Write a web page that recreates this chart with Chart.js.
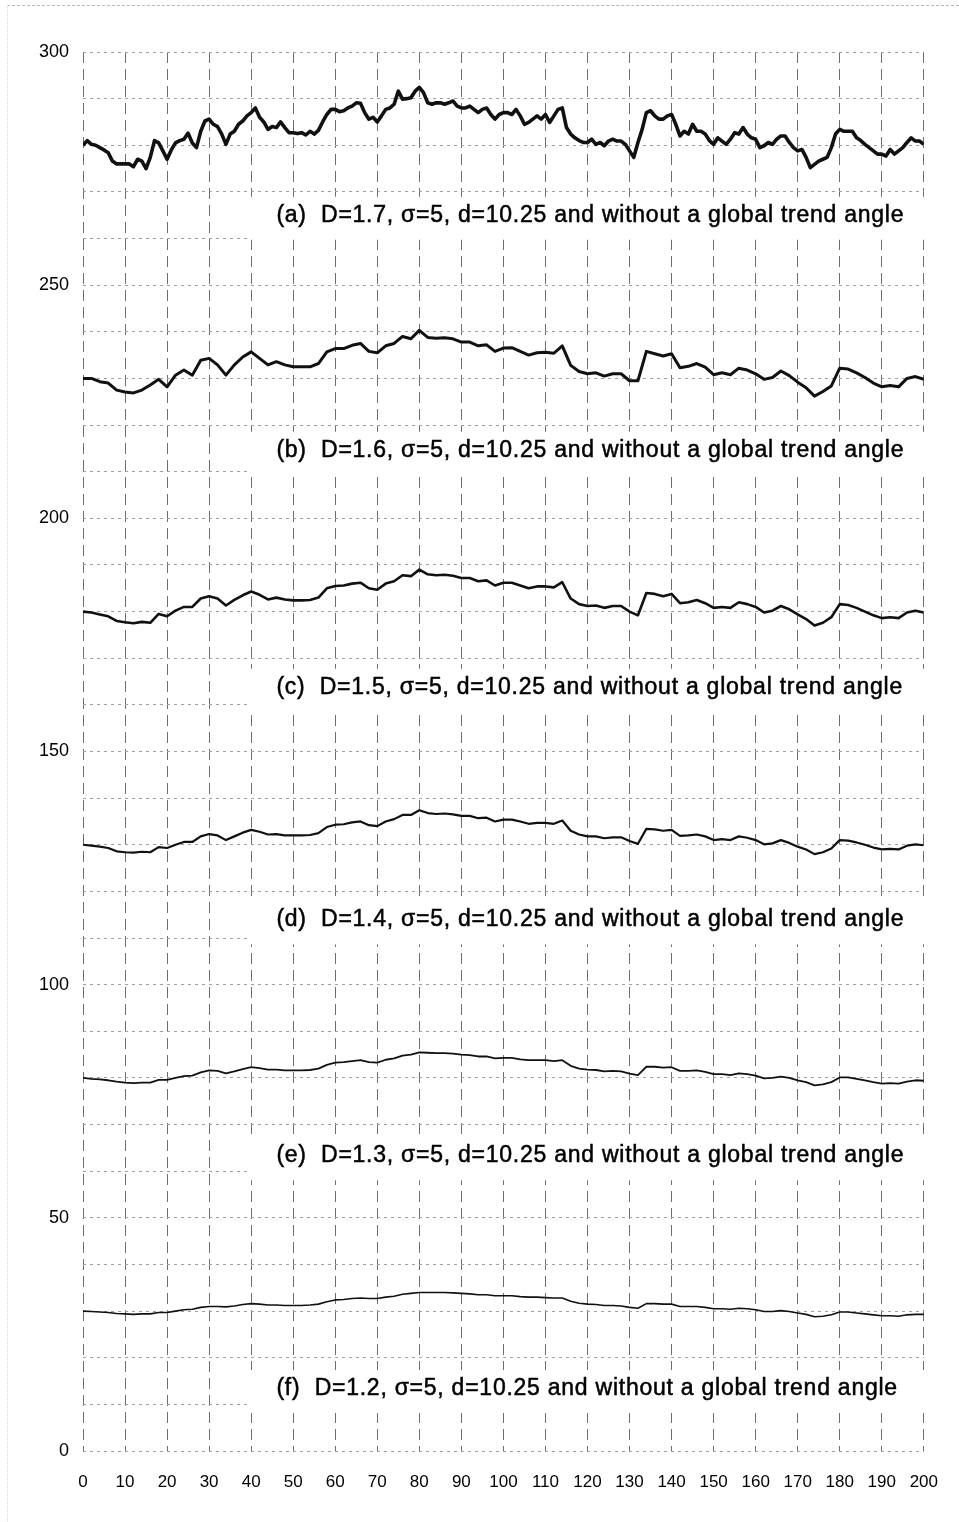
<!DOCTYPE html>
<html>
<head>
<meta charset="utf-8">
<script src="https://cdn.jsdelivr.net/npm/chart.js@4/dist/chart.umd.min.js"></script>
<style>
  html, body { margin: 0; padding: 0; background: #fff; }
  #wrap { position: relative; width: 959px; height: 1522px; }
  #scan { position: absolute; left: 7px; top: 5px; right: 0; bottom: 0;
          border-top: 1px dashed #b5b5b5; border-left: 1px dotted #d8d8d8; pointer-events: none; }
</style>
</head>
<body>
<div id="wrap">
  <canvas id="fractalChart" width="959" height="1522"></canvas>
  <div id="scan"></div>
</div>
<script>
// sample positions (x)
const xFine = [0,1,2,3,4,5,6,7,8,9,10,11,12,13,14,15,16,17,18,19,20,21,22,23,24,25,26,27,28,29,30,31,32,33,34,35,36,37,38,39,40,41,42,43,44,45,46,47,48,49,50,51,52,53,54,55,56,57,58,59,60,61,62,63,64,65,66,67,68,69,70,71,72,73,74,75,76,77,78,79,80,81,82,83,84,85,86,87,88,89,90,91,92,93,94,95,96,97,98,99,100,101,102,103,104,105,106,107,108,109,110,111,112,113,114,115,116,117,118,119,120,121,122,123,124,125,126,127,128,129,130,131,132,133,134,135,136,137,138,139,140,141,142,143,144,145,146,147,148,149,150,151,152,153,154,155,156,157,158,159,160,161,162,163,164,165,166,167,168,169,170,171,172,173,174,175,176,177,178,179,180,181,182,183,184,185,186,187,188,189,190,191,192,193,194,195,196,197,198,199,200];
const xCoarse = [0,2,4,6,8,10,12,14,16,18,20,22,24,26,28,30,32,34,36,38,40,42,44,46,48,50,52,54,56,58,60,62,64,66,68,70,72,74,76,78,80,82,84,86,88,90,92,94,96,98,100,102,104,106,108,110,112,114,116,118,120,122,124,126,128,130,132,134,136,138,140,142,144,146,148,150,152,154,156,158,160,162,164,166,168,170,172,174,176,178,180,182,184,186,188,190,192,194,196,198,200];

// (a) D=1.7, sampled on xFine
const seriesA = [280,281,280.2,280,279.5,279,278.4,276.6,276,276,276,276,275.4,277,276.6,275,277.4,281,280.5,278.8,
  277,279,280.5,281,281.3,282.6,280.5,279.5,283,285.2,285.6,284.5,284,282.4,280.2,282.4,283,284.5,285.2,286.3,
  287,288,286,285,283.4,284,283.8,285,283.8,282.7,282.7,282.5,282.7,282.2,283,282.4,283.2,285,286.6,287.7,
  287.7,287.2,287.4,288,288.4,289.1,289,287,285.6,286,285,286.3,287.7,288,288.8,291.6,289.9,290,290.2,291.6,
  292.4,291.3,289.1,288.8,289.1,289.1,288.8,289.1,289.5,288.4,288,288,288.4,287.7,287,287.7,288,286.6,285.6,286.6,
  287,287,286.6,287.7,286.3,284.5,284.9,285.6,286.3,285.6,286.6,284.9,286.3,287.7,288,283.8,282.4,281.6,281,280.6,
  280.6,281.3,280.2,280.6,279.9,280.9,281.3,280.9,280.9,280.2,278.8,277.4,280.6,283.4,287,287.4,286.3,285.6,285.6,286.3,
  286.6,284.5,282,283,282.4,284.5,283,283,282.4,281,280.2,281.6,280.9,280.2,281.3,282.7,282.4,283.8,282.4,281.6,
  281.3,279.5,279.9,280.6,280.2,281.3,282,282,280.6,279.5,278.8,279.1,277.4,275.2,275.9,276.6,277,277.4,279.5,282.4,
  283.4,283,283,283,281.6,281,280.2,279.5,278.8,278.1,278.1,277.7,279.1,278.1,278.8,279.5,280.6,281.6,280.9,280.9,280.2];

// (b)..(f), sampled on xCoarse
const seriesB = [230,230,229.3,229,227.5,227.1,226.9,227.5,228.6,229.8,228.2,230.7,231.8,230.7,233.9,234.3,232.9,230.7,232.9,234.6,
  235.7,234.3,232.9,233.6,232.9,232.5,232.5,232.5,233.2,235.7,236.4,236.4,237.1,237.5,235.8,235.5,237,237.5,239,238.5,
  240.3,238.8,238.6,238.7,238.5,237.8,237.8,237,237.2,235.8,236.5,236.6,235.8,235,235.5,235.6,235.4,237,232.8,231.5,
  231,231.2,230.5,231,231,229.5,229.5,235.8,235.3,234.8,235.3,232.3,232.6,233.2,232.4,230.8,231.2,230.8,232.2,231.8,
  231,229.8,230.2,231.6,230.6,229.2,228,226.2,227.2,228.4,232.2,232,231.2,230.2,229,228.2,228.5,228.2,230,230.4,229.8];
const seriesC = [180,179.8,179.4,179,178,177.7,177.5,177.8,177.6,179.5,179,180.2,181,181,182.8,183.3,182.8,181.3,182.5,183.5,
  184.3,183.6,182.6,183,182.6,182.4,182.4,182.5,183,185,185.5,185.6,186,186.2,185,184.7,186,186.5,187.8,187.6,
  189,188,187.8,187.9,187.7,187.2,187.2,186.5,186.7,185.6,186.2,186.2,185.6,185,185.4,185.4,185.2,186.3,182.8,181.6,
  181.2,181.3,180.8,181.2,181.2,180,179.2,184,183.8,183.3,183.8,181.8,182,182.5,181.8,180.8,181,180.8,182,181.6,
  181,179.8,180.2,181.2,180.5,179.4,178.4,177,177.6,178.8,181.6,181.4,180.8,180,179.2,178.6,178.8,178.6,179.8,180.2,179.8];
const seriesD = [130,129.8,129.6,129.3,128.6,128.4,128.3,128.5,128.4,129.5,129.3,130,130.6,130.6,131.8,132.3,132,131,131.8,132.6,
  133.2,132.8,132.2,132.3,132,132,132,132.1,132.5,133.8,134.3,134.4,134.8,135,134.2,134,135,135.5,136.4,136.4,
  137.4,136.8,136.6,136.7,136.5,136.2,136.2,135.7,135.8,135,135.4,135.4,135,134.5,134.7,134.7,134.5,135.2,133,132.2,
  131.8,131.8,131.4,131.6,131.6,130.8,130.2,133.4,133.3,133,133.2,131.9,132,132.2,131.8,131,131.2,131,131.8,131.5,
  131,130.1,130.3,131,130.4,129.6,129,128,128.4,129.2,131,130.9,130.5,130,129.4,129,129.1,129,129.8,130.1,129.9];
const seriesE = [80,79.8,79.7,79.5,79.2,79,78.9,79,79,79.6,79.6,80,80.4,80.5,81.2,81.6,81.5,81,81.4,81.9,
  82.3,82.1,81.8,81.8,81.6,81.6,81.6,81.7,82,82.8,83.3,83.4,83.6,83.8,83.4,83.3,83.9,84.2,84.8,85,
  85.5,85.4,85.3,85.3,85.2,85,84.9,84.6,84.6,84.2,84.3,84.3,84,83.8,83.8,83.8,83.6,83.8,82.6,82,
  81.8,81.7,81.4,81.5,81.4,80.9,80.6,82.4,82.4,82.2,82.3,81.5,81.5,81.6,81.3,80.8,80.8,80.6,81,80.8,
  80.5,79.9,80,80.3,80,79.5,79.1,78.4,78.6,79.1,80.1,80.1,79.8,79.5,79.1,78.8,78.9,78.8,79.2,79.5,79.4];
const seriesF = [30,29.9,29.8,29.7,29.5,29.4,29.3,29.4,29.4,29.7,29.7,30,30.3,30.4,30.8,31,31,30.9,31.1,31.4,
  31.6,31.5,31.3,31.3,31.2,31.2,31.2,31.3,31.5,32,32.4,32.5,32.7,32.8,32.7,32.7,33,33.2,33.6,33.8,
  34,34,34,34,33.9,33.8,33.7,33.5,33.5,33.3,33.3,33.3,33.1,33,33,32.9,32.8,32.8,32.1,31.7,
  31.5,31.4,31.2,31.2,31.1,30.8,30.6,31.6,31.6,31.5,31.5,31,31,31,30.8,30.5,30.5,30.4,30.6,30.5,
  30.3,29.9,29.9,30.1,29.9,29.6,29.3,28.8,28.9,29.2,29.8,29.8,29.6,29.4,29.2,29,29,28.9,29.2,29.3,29.3];

// panel captions and where they sit (x, y in data units)
const captions = [
  '(a)  D=1.7, \u03c3=5, d=10.25 and without a global trend angle',
  '(b)  D=1.6, \u03c3=5, d=10.25 and without a global trend angle',
  '(c)  D=1.5, \u03c3=5, d=10.25 and without a global trend angle',
  '(d)  D=1.4, \u03c3=5, d=10.25 and without a global trend angle',
  '(e)  D=1.3, \u03c3=5, d=10.25 and without a global trend angle',
  '(f)  D=1.2, \u03c3=5, d=10.25 and without a global trend angle'
];
const captionX = 46;
const captionY = [263.6, 213.2, 162.4, 112.5, 61.9, 12.0];

const yTickLabels = [0, 50, 100, 150, 200, 250, 300];

const toPoints = (xs, ys) => xs.map((x, i) => ({x: x, y: ys[i]}));

const captionPlugin = {
    id: 'captions',
    afterDraw(chart) {
        const ctx = chart.ctx;
        const xs = chart.scales.x, ys = chart.scales.y;
        const area = chart.chartArea;
        ctx.save();
        ctx.font = '23px "Liberation Sans", Arial, sans-serif';
        ctx.letterSpacing = '0.75px';
        ctx.textBaseline = 'alphabetic';
        ctx.textAlign = 'left';
        ctx.lineWidth = 0.5;
        captions.forEach((txt, i) => {
            const px = xs.getPixelForValue(captionX);
            const py = ys.getPixelForValue(captionY[i]);
            ctx.fillStyle = '#fff';
            ctx.fillRect(px - 27, py - 25, area.right + 2 - (px - 27), 43);
            ctx.fillStyle = '#000';
            ctx.strokeStyle = '#000';
            ctx.fillText(txt, px, py);
            ctx.strokeText(txt, px, py);
        });
        ctx.restore();
    }
};

const lineWidths = [3.6, 3, 2.6, 2.2, 1.8, 1.6];
const allSeries = [
    toPoints(xFine, seriesA),
    toPoints(xCoarse, seriesB),
    toPoints(xCoarse, seriesC),
    toPoints(xCoarse, seriesD),
    toPoints(xCoarse, seriesE),
    toPoints(xCoarse, seriesF)
];

const ctx = document.getElementById('fractalChart').getContext('2d');
const fractalChart = new Chart(ctx, {
    type: 'line',
    data: {
        datasets: allSeries.map((pts, i) => ({
            data: pts,
            borderColor: '#111',
            borderWidth: lineWidths[i],
            borderJoinStyle: 'round',
            pointRadius: 0,
            tension: 0,
            fill: false
        }))
    },
    options: {
        responsive: false,
        animation: false,
        layout: { padding: { top: 52, right: 34, left: 0, bottom: 0 } },
        plugins: { legend: { display: false }, tooltip: { enabled: false } },
        scales: {
            x: {
                type: 'linear',
                min: 0,
                max: 200,
                afterFit: (scale) => { scale.height = 71; },
                ticks: {
                    stepSize: 10,
                    color: '#000',
                    padding: 21,
                    maxRotation: 0,
                    autoSkip: false,
                    font: { family: '"Liberation Sans", Arial, sans-serif', size: 17 }
                },
                grid: { color: '#6e6e6e', lineWidth: 1, drawTicks: false },
                border: { display: false, dash: [11, 6] }
            },
            y: {
                type: 'linear',
                min: 0,
                max: 300,
                afterFit: (scale) => { scale.width = 83; },
                ticks: {
                    stepSize: 10,
                    color: '#000',
                    padding: 14,
                    autoSkip: false,
                    callback: (v) => yTickLabels.includes(v) ? String(v) : '',
                    font: { family: '"Liberation Sans", Arial, sans-serif', size: 18 }
                },
                grid: { color: '#a0a0a0', lineWidth: 1, drawTicks: false },
                border: { display: false, dash: [3, 4] }
            }
        }
    },
    plugins: [captionPlugin]
});
</script>
</body>
</html>
